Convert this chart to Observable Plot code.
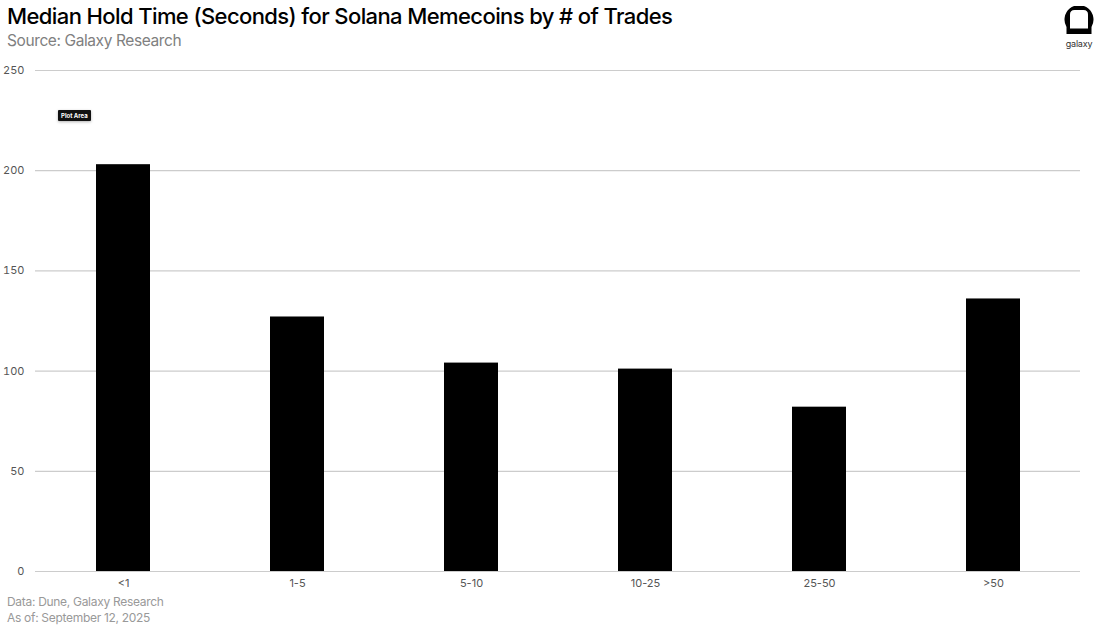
<!DOCTYPE html>
<html>
<head>
<meta charset="utf-8">
<script src="https://cdn.jsdelivr.net/npm/d3@7"></script>
<script src="https://cdn.jsdelivr.net/npm/@observablehq/plot@0.6"></script>
<style>
  html, body { margin: 0; padding: 0; background: #fff; }
  body { width: 1100px; height: 627px; position: relative; overflow: hidden; font-family: Inter, "Noto Sans", sans-serif; }
  #title { position: absolute; left: 7px; top: 3px; font-size: 22px; font-weight: 500; letter-spacing: -0.6px; color: #000; white-space: nowrap; }
  #subtitle { position: absolute; left: 7px; top: 31px; font-size: 15.5px; color: #808080; letter-spacing: -0.4px; white-space: nowrap; }
  #chart { position: absolute; left: 0; top: 55px; }
  #footer { position: absolute; left: 7px; top: 594px; font-size: 12px; color: #999; line-height: 16px; letter-spacing: -0.3px; }
  #plotarea { position: absolute; left: 58px; top: 110px; background: #111; color: #fff; font-size: 6px; font-weight: 700; padding: 2px 3px; border-radius: 1px; box-shadow: 0 1px 3px rgba(0,0,0,0.3); }
  #logo { position: absolute; left: 1060px; top: 6px; width: 38px; text-align: center; }
  #logo svg { display: block; margin: 0 auto; }
  #logo .word { font-size: 9px; color: #333; margin-top: 3px; letter-spacing: -0.2px; }
</style>
</head>
<body>
<div id="title">Median Hold Time (Seconds) for Solana Memecoins by # of Trades</div>
<div id="subtitle">Source: Galaxy Research</div>
<div id="logo">
  <svg width="30" height="29" viewBox="0 0 30 29">
    <path d="M2.5,28 L2.5,21 A14.5,14.5 0 1 1 27.5,21 L27.5,28 Z" fill="#000"/>
    <path d="M6,22.5 L6,8.5 Q6,4 10.5,4 L19.5,4 Q24,4 24,8.5 L24,22.5 Z" fill="#fff"/>
  </svg>
  <div class="word">galaxy</div>
</div>
<div id="chart"></div>
<div id="plotarea">Plot Area</div>
<div id="footer">Data: Dune, Galaxy Research<br>As of: September 12, 2025</div>
<script>
const categories = ["<1", "1-5", "5-10", "10-25", "25-50", ">50"];
const holdSeconds = [203, 127, 104, 101, 82, 136];
const yTicks = [0, 50, 100, 150, 200, 250];

const data = categories.map((c, i) => ({category: c, value: holdSeconds[i]}));

const chart = Plot.plot({
  width: 1100,
  height: 540,
  marginTop: 15,
  marginLeft: 35,
  marginRight: 20,
  marginBottom: 24,
  style: {fontFamily: "Inter, 'Noto Sans', sans-serif", fontSize: "11px", color: "#555", background: "transparent"},
  x: {domain: categories, paddingInner: 0.69, paddingOuter: 0.345, label: null},
  y: {domain: [0, 250], label: null},
  marks: [
    Plot.gridY(yTicks, {stroke: "#cccccc", strokeOpacity: 1, strokeWidth: 1.2}),
    Plot.barY(data, {x: "category", y: "value", fill: "#000"}),
    Plot.axisY(yTicks, {tickSize: 0, tickPadding: 11, label: null, fill: "#555"}),
    Plot.axisX({tickSize: 0, tickPadding: 8, label: null, fill: "#555"})
  ]
});
document.getElementById("chart").appendChild(chart);
</script>
</body>
</html>
